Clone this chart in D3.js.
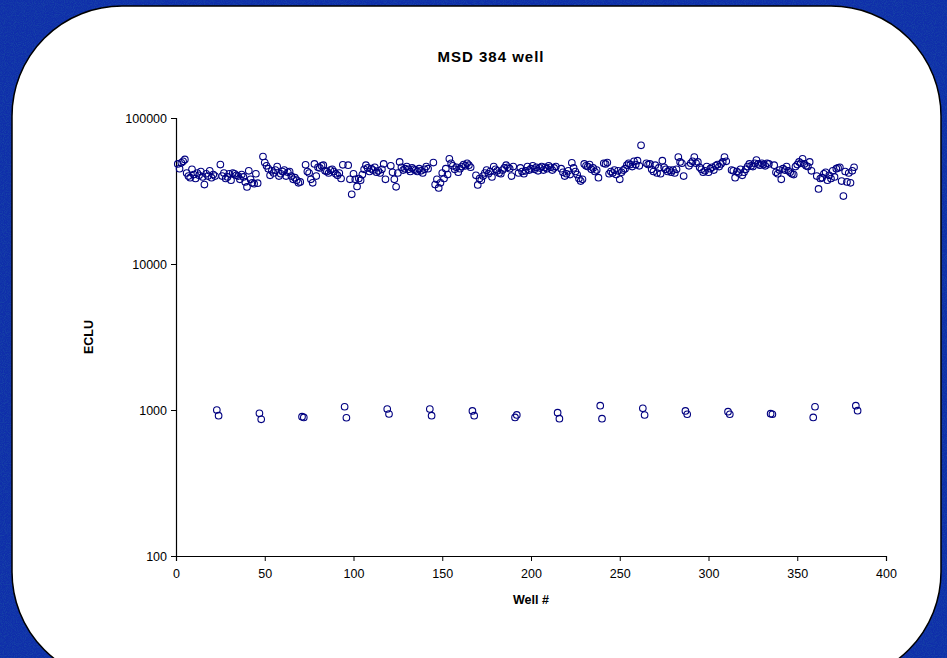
<!DOCTYPE html>
<html>
<head>
<meta charset="utf-8">
<script src="https://cdn.jsdelivr.net/npm/d3@7"></script>
<style>
  html, body { margin: 0; padding: 0; background: #0d2aa0; }
  svg { display: block; }
</style>
</head>
<body>
<div id="chart"></div>
<script>
// MSD 384 well - ECLU per well, log y axis.
// High-signal wells and the low-signal control pairs are kept apart.

const TITLE = "MSD 384 well";
const X_LABEL = "Well #";
const Y_LABEL = "ECLU";

const X_TICKS = [0, 50, 100, 150, 200, 250, 300, 350, 400];
const Y_TICKS = [100, 1000, 10000, 100000];

// control wells (two per 24-well block)
const LOW_WELLS = [23, 24, 47, 48, 71, 72, 95, 96, 119, 120, 143, 144, 167, 168, 191, 192,
                   215, 216, 239, 240, 263, 264, 287, 288, 311, 312, 335, 336, 359, 360, 383, 384];
const LOW_VALUES = [1000, 914, 949, 863, 900, 890, 1053, 885, 1016, 939, 1016, 914, 985, 914, 890, 925,
                    958, 872, 1070, 872, 1027, 924, 985, 935, 974, 935, 944, 935, 890, 1053, 1070, 990];

// all remaining wells, in well order
const HIGH_VALUES = [
  48500, 45000, 49300, 50500, 52000, 42000, 40000, 39000, 44500, 41000, 38500, 42000,
  40500, 43000, 39500, 35000, 41500, 40000, 43500, 39000, 41000, 40000,
  48000, 40000, 42000, 38500, 39500, 41500, 37500, 42000, 41500, 40500, 40000, 38000,
  41000, 39500, 36500, 33700, 43500, 38000, 36000, 35500, 41500, 35800,
  54500, 49500, 47000, 45000, 40500, 43500, 42000, 44000, 46500, 40000, 41500, 43000,
  44000, 40000, 42500, 43000, 40000, 38000, 39000, 37500, 36000, 36500,
  47800, 43000, 42000, 38000, 36000, 48500, 40000, 46000, 45500, 47000, 47500, 43500,
  43000, 42000, 44000, 44500, 43000, 41500, 40500, 42000, 38500, 47800,
  47500, 38000, 30000, 41500, 38000, 34000, 38500, 37500, 41000, 44500, 47500, 45500,
  43000, 45000, 44000, 46000, 42500, 43500, 42000, 44500, 48500, 38000,
  47000, 42500, 38000, 33800, 42000, 50000, 46000, 44000, 45000, 46500, 44500, 43000,
  45500, 44500, 44000, 43000, 45000, 43500, 42000, 44500, 46500, 45000,
  49500, 35000, 38000, 33200, 36000, 42000, 38500, 45000, 41000, 52500, 49000, 47000,
  44500, 46000, 42500, 45000, 46500, 48000, 47000, 49000, 47500, 46000,
  40500, 34800, 38500, 37500, 40000, 42000, 44000, 41500, 43000, 39500, 46500, 44500,
  43500, 42000, 41500, 44000, 45500, 47500, 46000, 45000, 40000, 46500,
  42000, 45500, 43000, 41500, 43500, 46500, 44000, 45000, 47000, 44500, 46000, 43500,
  45500, 46500, 44000, 46000, 45000, 47000, 46000, 44000, 45500, 46500,
  45000, 42500, 40000, 41500, 43500, 41000, 49300, 45500, 43000, 41000, 38500, 37000,
  38000, 48500, 47000, 46500, 48000, 44500, 45500, 43000, 44000, 39000,
  49000, 48500, 49500, 41500, 43000, 42000, 44000, 41000, 43500, 38000, 42500, 44000,
  45000, 47500, 49000, 48000, 46500, 50500, 48000, 51000, 47000, 65000,
  49000, 48000, 48500, 44500, 43000, 47500, 42000, 45500, 41500, 51000, 46000, 44500,
  43000, 44000, 42500, 44000, 42000, 44500, 54000, 50000, 49000, 40000,
  47000, 49000, 50500, 54000, 49000, 50000, 46000, 44500, 42500, 43500, 46500, 42500,
  45000, 46000, 44000, 47000, 48000, 46500, 48500, 50000, 54000, 50500,
  44000, 43500, 39000, 43000, 42000, 44500, 40500, 42500, 44500, 46500, 48500, 47000,
  46500, 49000, 51500, 48500, 47500, 49000, 48000, 47000, 49000, 48500,
  47500, 42500, 41500, 44000, 38000, 45000, 44000, 46500, 43500, 42500, 41500, 41000,
  46500, 48000, 50000, 49000, 52500, 48500, 47000, 46500, 50000, 43500,
  40000, 32700, 38500, 39000, 41500, 42500, 37500, 40500, 38500, 43500, 39500, 45000,
  45500, 46000, 37000, 29200, 43000, 36500, 42000, 36000, 43500, 46000
];

const W = 947, H = 658;
const plot = { left: 176, right: 886, top: 118, bottom: 556 };
const FONT = "Liberation Sans, Arial, sans-serif";
const MARK = "#000080";

// rebuild the per-well table
const lowMap = new Map(LOW_WELLS.map((w, i) => [w, LOW_VALUES[i]]));
const rows = [];
let hi = 0;
for (let w = 1; w <= 384; w++) {
  if (lowMap.has(w)) rows.push({ well: w, value: lowMap.get(w) });
  else rows.push({ well: w, value: HIGH_VALUES[hi++] });
}

const svg = d3.select("#chart").append("svg")
  .attr("width", W).attr("height", H);

// speckled blue backdrop
const defs = svg.append("defs");
const f = defs.append("filter").attr("id", "grain")
  .attr("x", 0).attr("y", 0).attr("width", "100%").attr("height", "100%");
f.append("feTurbulence").attr("type", "fractalNoise")
  .attr("baseFrequency", 1.1).attr("numOctaves", 1).attr("seed", 7).attr("result", "n");
f.append("feColorMatrix").attr("in", "n").attr("type", "matrix")
  .attr("values", "0 0 0 0 0.01  0 0 0 0 0.07  0 0 0 0 0.38  0 0 0 -2.2 1.35");

svg.append("rect").attr("width", W).attr("height", H).attr("fill", "#0f2eaa");
svg.append("rect").attr("width", W).attr("height", H).attr("filter", "url(#grain)").attr("opacity", 0.85);

// white chart panel
svg.append("rect")
  .attr("x", 12).attr("y", 6)
  .attr("width", 929).attr("height", 676)
  .attr("rx", 110).attr("ry", 110)
  .attr("fill", "#ffffff")
  .attr("stroke", "#000000")
  .attr("stroke-width", 1.5);

const x = d3.scaleLinear().domain([0, 400]).range([plot.left, plot.right]);
const y = d3.scaleLog().domain([100, 100000]).range([plot.bottom, plot.top]);

// axes
const xAxis = svg.append("g")
  .attr("transform", `translate(0,${plot.bottom})`)
  .call(d3.axisBottom(x).tickValues(X_TICKS).tickSize(5).tickPadding(8).tickFormat(d3.format("d")));
const yAxis = svg.append("g")
  .attr("transform", `translate(${plot.left},0)`)
  .call(d3.axisLeft(y).tickValues(Y_TICKS).tickSize(5).tickPadding(4).tickFormat(d3.format("d")));

[xAxis, yAxis].forEach(a => {
  a.select(".domain").attr("stroke", "#000").attr("stroke-width", 1.2);
  a.selectAll(".tick line").attr("stroke", "#000").attr("stroke-width", 1);
  a.selectAll("text")
    .attr("fill", "#000")
    .attr("font-size", "12.5px")
    .attr("font-family", FONT);
});

// points
svg.append("g")
  .selectAll("circle")
  .data(rows)
  .join("circle")
    .attr("cx", d => x(d.well))
    .attr("cy", d => y(d.value))
    .attr("r", 3.3)
    .attr("fill", "none")
    .attr("stroke", MARK)
    .attr("stroke-width", 1.1);

// titles
svg.append("text")
  .attr("x", 491).attr("y", 62)
  .attr("text-anchor", "middle")
  .attr("font-family", FONT)
  .attr("font-size", "15px")
  .attr("font-weight", "bold")
  .attr("letter-spacing", "1px")
  .text(TITLE);

svg.append("text")
  .attr("x", 531).attr("y", 604)
  .attr("text-anchor", "middle")
  .attr("font-family", FONT)
  .attr("font-size", "12.5px")
  .attr("font-weight", "bold")
  .text(X_LABEL);

svg.append("text")
  .attr("transform", `translate(93,${(plot.top + plot.bottom) / 2}) rotate(-90)`)
  .attr("text-anchor", "middle")
  .attr("font-family", FONT)
  .attr("font-size", "12.5px")
  .attr("font-weight", "bold")
  .text(Y_LABEL);
</script>
</body>
</html>
